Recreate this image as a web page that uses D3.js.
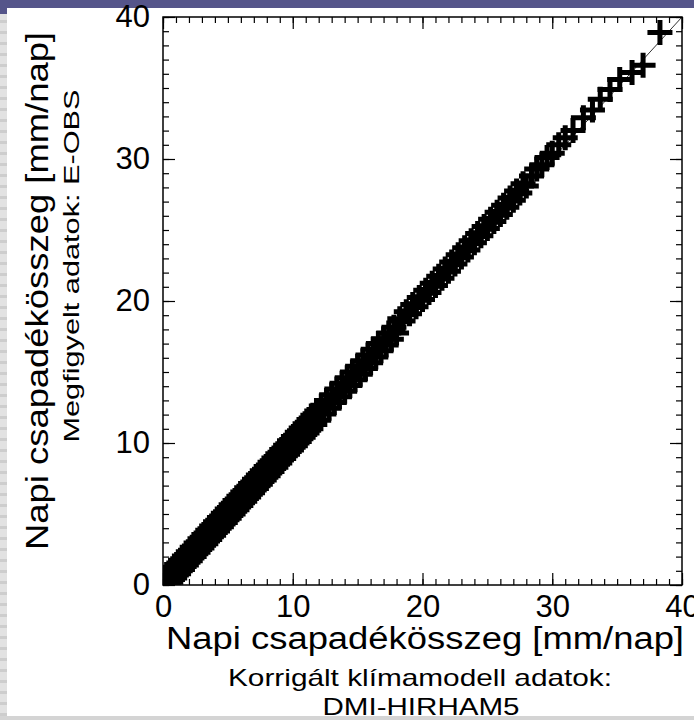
<!DOCTYPE html>
<html>
<head>
<meta charset="utf-8">
<script src="https://cdn.jsdelivr.net/npm/d3@7"></script>
<style>
body { margin: 0; background: #fff; }
text { font-family: "Liberation Sans", Arial, sans-serif; fill: #000; }
</style>
</head>
<body>
<div id="chart"></div>
<script>
// quantiles: model (x) vs observed (y), mm/nap
var modelQ = [0.15, 0.3, 0.45, 0.6, 0.75, 0.9, 1.05, 1.2, 1.35, 1.5, 1.65, 1.8, 1.95, 2.1, 2.25, 2.4, 2.55, 2.7, 2.85, 3.0,
	3.15, 3.3, 3.45, 3.6, 3.75, 3.9, 4.05, 4.2, 4.35, 4.5, 4.65, 4.8, 4.95, 5.1, 5.25, 5.4, 5.55, 5.7, 5.85, 6.0,
	6.15, 6.3, 6.45, 6.6, 6.75, 6.9, 7.05, 7.2, 7.35, 7.5, 7.65, 7.8, 7.95, 8.1, 8.25, 8.4, 8.55, 8.7, 8.85, 9.0,
	9.15, 9.3, 9.45, 9.6, 9.75, 9.9, 10.05, 10.2, 10.35, 10.5, 10.65, 10.8, 10.95, 11.1, 11.25, 11.4, 11.55, 11.7, 11.85, 12.0,
	12.2, 12.4, 12.6, 12.8, 13.0, 13.2, 13.4, 13.6, 13.8, 14.0, 14.2, 14.4, 14.6, 14.8, 15.0,
	15.2, 15.4, 15.6, 15.8, 16.0, 16.2, 16.4, 16.6, 16.8, 17.0, 17.2, 17.4, 17.6, 17.8, 18.0,
	18.25, 18.5, 18.75, 19.0, 19.25, 19.5, 19.75, 20.0, 20.25, 20.5, 20.75, 21.0, 21.25, 21.5, 21.75, 22.0, 22.25, 22.5, 22.75, 23.0,
	23.25, 23.5, 23.75, 24.0, 24.25, 24.5, 24.75, 25.0, 25.25, 25.5, 25.75, 26.0, 26.25, 26.5, 26.75, 27.0, 27.25, 27.5, 27.75, 28.0,
	28.4, 28.8, 29.2, 29.6, 30.0, 30.5,
	31.0, 31.6, 32.4, 33.1, 33.7, 34.45, 35.2, 36.15, 37.0, 38.3];
var obsQ = [0.55, 0.0, 0.85, 0.2, 1.15, 0.5, 1.45, 0.8, 1.75, 1.1, 2.05, 1.4, 2.35, 1.7, 2.65, 2.0, 2.95, 2.3, 3.25, 2.6,
	3.55, 2.9, 3.85, 3.2, 4.15, 3.5, 4.45, 3.8, 4.75, 4.1, 5.05, 4.4, 5.35, 4.7, 5.65, 5.0, 5.95, 5.3, 6.25, 5.6,
	6.55, 5.9, 6.85, 6.2, 7.15, 6.5, 7.45, 6.8, 7.75, 7.1, 8.05, 7.4, 8.35, 7.7, 8.65, 8.0, 8.95, 8.3, 9.25, 8.6,
	9.55, 8.9, 9.85, 9.2, 10.15, 9.5, 10.45, 9.8, 10.75, 10.1, 11.05, 10.4, 11.35, 10.7, 11.65, 11.0, 11.95, 11.3, 12.25, 11.6,
	12.6, 12.05, 13.0, 12.45, 13.4, 12.85, 13.8, 13.25, 14.2, 13.65, 14.6, 14.05, 15.0, 14.45, 15.4,
	14.85, 15.8, 15.25, 16.2, 15.65, 16.6, 16.05, 17.0, 16.5, 17.35, 16.9, 17.75, 17.3, 18.15, 17.75,
	18.75, 18.6, 19.25, 19.1, 19.75, 19.6, 20.25, 20.1, 20.75, 20.6, 21.25, 21.1, 21.75, 21.6, 22.25, 22.1, 22.75, 22.6, 23.25, 23.1,
	23.75, 23.6, 24.25, 24.1, 24.75, 24.6, 25.25, 25.1, 25.75, 25.6, 26.25, 26.1, 26.75, 26.6, 27.25, 27.1, 27.75, 27.6, 28.25, 28.1,
	28.8, 29.3, 29.6, 30.1, 30.4, 31.0,
	31.5, 32.0, 32.9, 33.45, 34.2, 34.9, 35.6, 36.1, 36.6, 38.9];
var majorTicks = [0, 10, 20, 30, 40];
var xTitle = 'Napi csapadékösszeg [mm/nap]';
var xSub = ['Korrigált klímamodell adatok:', 'DMI-HIRHAM5'];
var yTitle = 'Napi csapadékösszeg [mm/nap]';
var ySub = 'Megfigyelt adatok: E-OBS';

var margin = {top: 17, left: 163};
var width = 519, height = 568;

var svg = d3.select('#chart').append('svg')
	.attr('width', 694)
	.attr('height', 720);

// slide background bits
svg.append('rect').attr('x', 0).attr('y', 0).attr('width', 694).attr('height', 8).attr('fill', '#55558a');
svg.append('rect').attr('x', 0).attr('y', 8).attr('width', 7).attr('height', 6).attr('fill', '#55558a');
svg.append('rect').attr('x', 0).attr('y', 14).attr('width', 7).attr('height', 702).attr('fill', '#e2e2e2');
svg.append('g').selectAll('rect')
	.data(d3.range(20, 716, 11))
	.join('rect')
	.attr('x', 0).attr('y', function(d) { return d; })
	.attr('width', 7).attr('height', 3)
	.attr('fill', '#cdcdcd');
svg.append('rect').attr('x', 0).attr('y', 716).attr('width', 694).attr('height', 4).attr('fill', '#d4d4d4');

var x = d3.scaleLinear().domain([0, 40]).range([0, width]);
var y = d3.scaleLinear().domain([0, 40]).range([height, 0]);

var g = svg.append('g')
	.attr('transform', 'translate(' + margin.left + ',' + margin.top + ')');

g.append('clipPath').attr('id', 'plotClip')
	.append('rect').attr('width', width).attr('height', height);

// y = x reference line
g.append('line')
	.attr('x1', x(0)).attr('y1', y(0))
	.attr('x2', x(40)).attr('y2', y(40))
	.attr('stroke', '#333')
	.attr('stroke-width', 1);

// plus markers
var arm = 12.5;
g.append('g')
	.attr('clip-path', 'url(#plotClip)')
	.selectAll('path')
	.data(d3.zip(modelQ, obsQ))
	.join('path')
	.attr('d', function(d) {
		var cx = x(d[0]), cy = y(d[1]);
		return 'M' + (cx - arm) + ',' + cy + 'H' + (cx + arm) + 'M' + cx + ',' + (cy - arm) + 'V' + (cy + arm);
	})
	.attr('fill', 'none')
	.attr('stroke', '#000')
	.attr('stroke-width', 5);

// ticks on all four sides, pointing inward
var minor = d3.range(0, 41, 1);
function styleAxis(sel) {
	sel.select('.domain').remove();
	sel.selectAll('.tick line').attr('stroke', '#000').attr('stroke-width', 1.2);
	sel.selectAll('.tick text').style('font-size', '31px').attr('fill', '#000');
}
g.append('g').attr('transform', 'translate(0,' + height + ')')
	.call(d3.axisBottom(x).tickValues(minor).tickSize(-6).tickFormat('')).call(styleAxis);
g.append('g')
	.call(d3.axisTop(x).tickValues(minor).tickSize(-6).tickFormat('')).call(styleAxis);
g.append('g')
	.call(d3.axisLeft(y).tickValues(minor).tickSize(-6).tickFormat('')).call(styleAxis);
g.append('g').attr('transform', 'translate(' + width + ',0)')
	.call(d3.axisRight(y).tickValues(minor).tickSize(-6).tickFormat('')).call(styleAxis);

g.append('g').attr('transform', 'translate(0,' + height + ')')
	.call(d3.axisBottom(x).tickValues(majorTicks).tickSize(-12).tickPadding(10)).call(styleAxis);
g.append('g')
	.call(d3.axisTop(x).tickValues(majorTicks).tickSize(-12).tickFormat('')).call(styleAxis);
g.append('g')
	.call(d3.axisLeft(y).tickValues(majorTicks).tickSize(-12).tickPadding(13)).call(styleAxis);
g.append('g').attr('transform', 'translate(' + width + ',0)')
	.call(d3.axisRight(y).tickValues(majorTicks).tickSize(-12).tickFormat('')).call(styleAxis);

// frame
g.append('rect')
	.attr('width', width).attr('height', height)
	.attr('fill', 'none')
	.attr('stroke', '#000')
	.attr('stroke-width', 1.5);

// axis titles
svg.append('text')
	.attr('x', 425).attr('y', 649)
	.attr('text-anchor', 'middle')
	.attr('textLength', 518).attr('lengthAdjust', 'spacingAndGlyphs')
	.style('font-size', '31px')
	.text(xTitle);
svg.append('text')
	.attr('x', 420).attr('y', 686)
	.attr('text-anchor', 'middle')
	.attr('textLength', 384).attr('lengthAdjust', 'spacingAndGlyphs')
	.style('font-size', '24px')
	.text(xSub[0]);
svg.append('text')
	.attr('x', 421).attr('y', 715)
	.attr('text-anchor', 'middle')
	.attr('textLength', 197).attr('lengthAdjust', 'spacingAndGlyphs')
	.style('font-size', '24px')
	.text(xSub[1]);

svg.append('text')
	.attr('transform', 'translate(48,291) rotate(-90)')
	.attr('text-anchor', 'middle')
	.attr('textLength', 518).attr('lengthAdjust', 'spacingAndGlyphs')
	.style('font-size', '31px')
	.text(yTitle);
svg.append('text')
	.attr('transform', 'translate(79,266) rotate(-90)')
	.attr('text-anchor', 'middle')
	.attr('textLength', 353).attr('lengthAdjust', 'spacingAndGlyphs')
	.style('font-size', '22px')
	.text(ySub);
</script>
</body>
</html>
